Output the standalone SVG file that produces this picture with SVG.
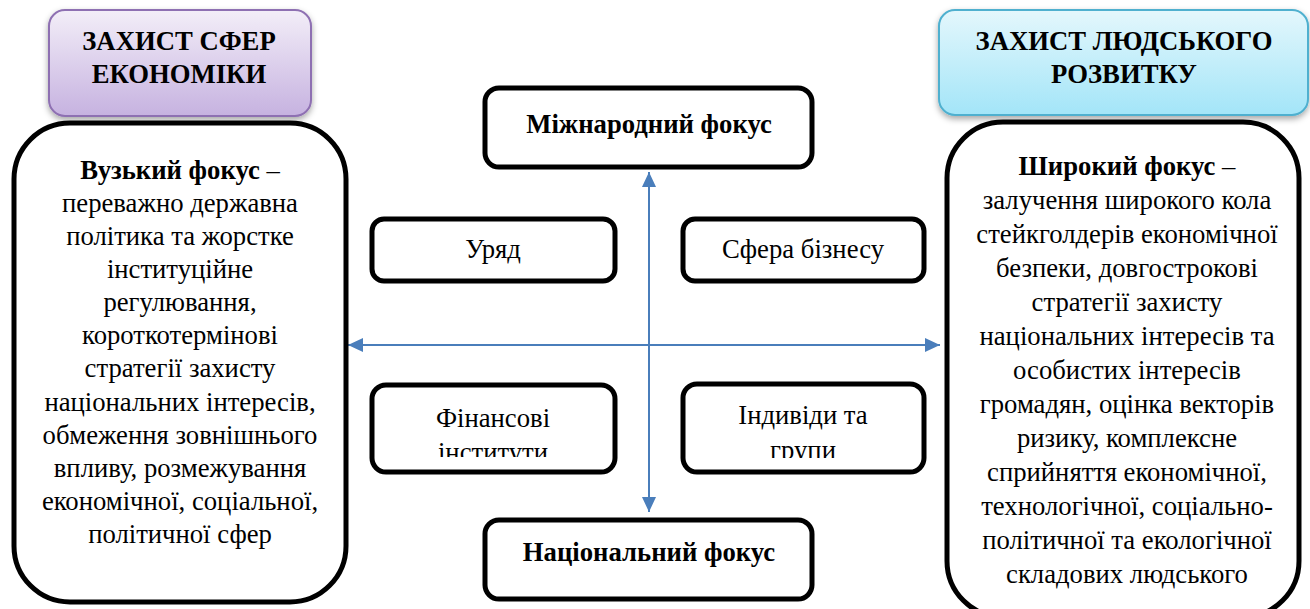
<svg xmlns="http://www.w3.org/2000/svg" width="1310" height="609" viewBox="0 0 1310 609">
<style>
text{font-family:"Liberation Serif","Times New Roman",serif;fill:#000;text-anchor:middle}
.box{fill:#fff;stroke:#000;stroke-width:5}
.hdr{font-weight:bold;font-size:26.7px}
.big{font-size:26.7px}
.mid{font-weight:bold;font-size:26.7px}
.sm{font-size:26.7px}
.conn{stroke:#4a7ebb;stroke-width:2;fill:none}
</style>
<defs>
<linearGradient id="gPurple" x1="0" y1="0" x2="0" y2="1">
<stop offset="0" stop-color="#f3eef8"/>
<stop offset="1" stop-color="#c6b2e0"/>
</linearGradient>
<linearGradient id="gCyan" x1="0" y1="0" x2="0" y2="1">
<stop offset="0" stop-color="#e4f7fc"/>
<stop offset="1" stop-color="#a3e5f8"/>
</linearGradient>
<filter id="sh" x="-10%" y="-10%" width="120%" height="130%">
<feDropShadow dx="0" dy="3" stdDeviation="3" flood-color="#000" flood-opacity="0.35"/>
</filter>
<marker id="arr" markerUnits="userSpaceOnUse" markerWidth="16" markerHeight="14" refX="15" refY="7" orient="auto-start-reverse">
<path d="M0,0 L15,7 L0,14 z" fill="#4a7ebb"/>
</marker>
<clipPath id="clipFin"><rect x="372" y="385" width="243" height="72"/></clipPath>
<clipPath id="clipInd"><rect x="683" y="384" width="241" height="74"/></clipPath>
</defs>

<g id="connectors">
<line class="conn" x1="649" y1="505" x2="649" y2="172" marker-end="url(#arr)"/>
<line class="conn" x1="649" y1="200" x2="649" y2="512" marker-end="url(#arr)"/>
<line class="conn" x1="360" y1="345" x2="940" y2="345" marker-end="url(#arr)"/>
<line class="conn" x1="930" y1="345" x2="348" y2="345" marker-end="url(#arr)"/>
</g>

<g id="header-left">
<rect x="49" y="10" width="262" height="106" rx="16" fill="url(#gPurple)" stroke="#8e70b2" stroke-width="2" filter="url(#sh)"/>
<text class="hdr" x="179" y="50">ЗАХИСТ СФЕР</text>
<text class="hdr" x="179" y="83">ЕКОНОМІКИ</text>
</g>

<g id="header-right">
<rect x="939" y="10" width="369" height="105" rx="16" fill="url(#gCyan)" stroke="#4fb0cf" stroke-width="2" filter="url(#sh)"/>
<text class="hdr" x="1124" y="50">ЗАХИСТ ЛЮДСЬКОГО</text>
<text class="hdr" x="1124" y="83">РОЗВИТКУ</text>
</g>

<g id="box-left">
<rect class="box" x="14" y="123" width="332" height="479" rx="56"/>
<text class="big" x="180" y="179"><tspan font-weight="bold">Вузький фокус</tspan> –</text>
<text class="big" x="180" y="212">переважно державна</text>
<text class="big" x="180" y="245">політика та жорстке</text>
<text class="big" x="180" y="278">інституційне</text>
<text class="big" x="180" y="311">регулювання,</text>
<text class="big" x="180" y="344">короткотермінові</text>
<text class="big" x="180" y="377">стратегії захисту</text>
<text class="big" x="180" y="411">національних інтересів,</text>
<text class="big" x="180" y="444">обмеження зовнішнього</text>
<text class="big" x="180" y="477">впливу, розмежування</text>
<text class="big" x="180" y="510">економічної, соціальної,</text>
<text class="big" x="180" y="543">політичної сфер</text>
</g>

<g id="box-right">
<rect class="box" x="947" y="122" width="352" height="495" rx="56"/>
<text class="big" x="1127" y="175"><tspan font-weight="bold">Широкий фокус</tspan> –</text>
<text class="big" x="1127" y="209">залучення широкого кола</text>
<text class="big" x="1127" y="243">стейкголдерів економічної</text>
<text class="big" x="1127" y="277">безпеки, довгострокові</text>
<text class="big" x="1127" y="311">стратегії захисту</text>
<text class="big" x="1127" y="345">національних інтересів та</text>
<text class="big" x="1127" y="379">особистих інтересів</text>
<text class="big" x="1127" y="413">громадян, оцінка векторів</text>
<text class="big" x="1127" y="447">ризику, комплексне</text>
<text class="big" x="1127" y="481">сприйняття економічної,</text>
<text class="big" x="1127" y="515">технологічної, соціально-</text>
<text class="big" x="1127" y="549">політичної та екологічної</text>
<text class="big" x="1127" y="583">складових людського</text>
</g>

<g id="node-international">
<rect class="box" x="485" y="88" width="327" height="79" rx="14"/>
<text class="mid" x="649" y="133">Міжнародний фокус</text>
</g>

<g id="node-national">
<rect class="box" x="485" y="520" width="327" height="79" rx="14"/>
<text class="mid" x="649" y="561">Національний фокус</text>
</g>

<g id="node-government">
<rect class="box" x="372" y="219" width="243" height="62" rx="12"/>
<text class="sm" x="493" y="258">Уряд</text>
</g>

<g id="node-business">
<rect class="box" x="683" y="219" width="241" height="62" rx="12"/>
<text class="sm" x="803" y="258">Сфера бізнесу</text>
</g>

<g id="node-financial">
<rect class="box" x="372" y="385" width="243" height="87" rx="14"/>
<g clip-path="url(#clipFin)">
<text class="sm" x="493" y="427">Фінансові</text>
<text class="sm" x="493" y="461">інститути</text>
</g>
</g>

<g id="node-individuals">
<rect class="box" x="683" y="384" width="241" height="88" rx="14"/>
<g clip-path="url(#clipInd)">
<text class="sm" x="803" y="424">Індивіди та</text>
<text class="sm" x="803" y="459">групи</text>
</g>
</g>
</svg>
